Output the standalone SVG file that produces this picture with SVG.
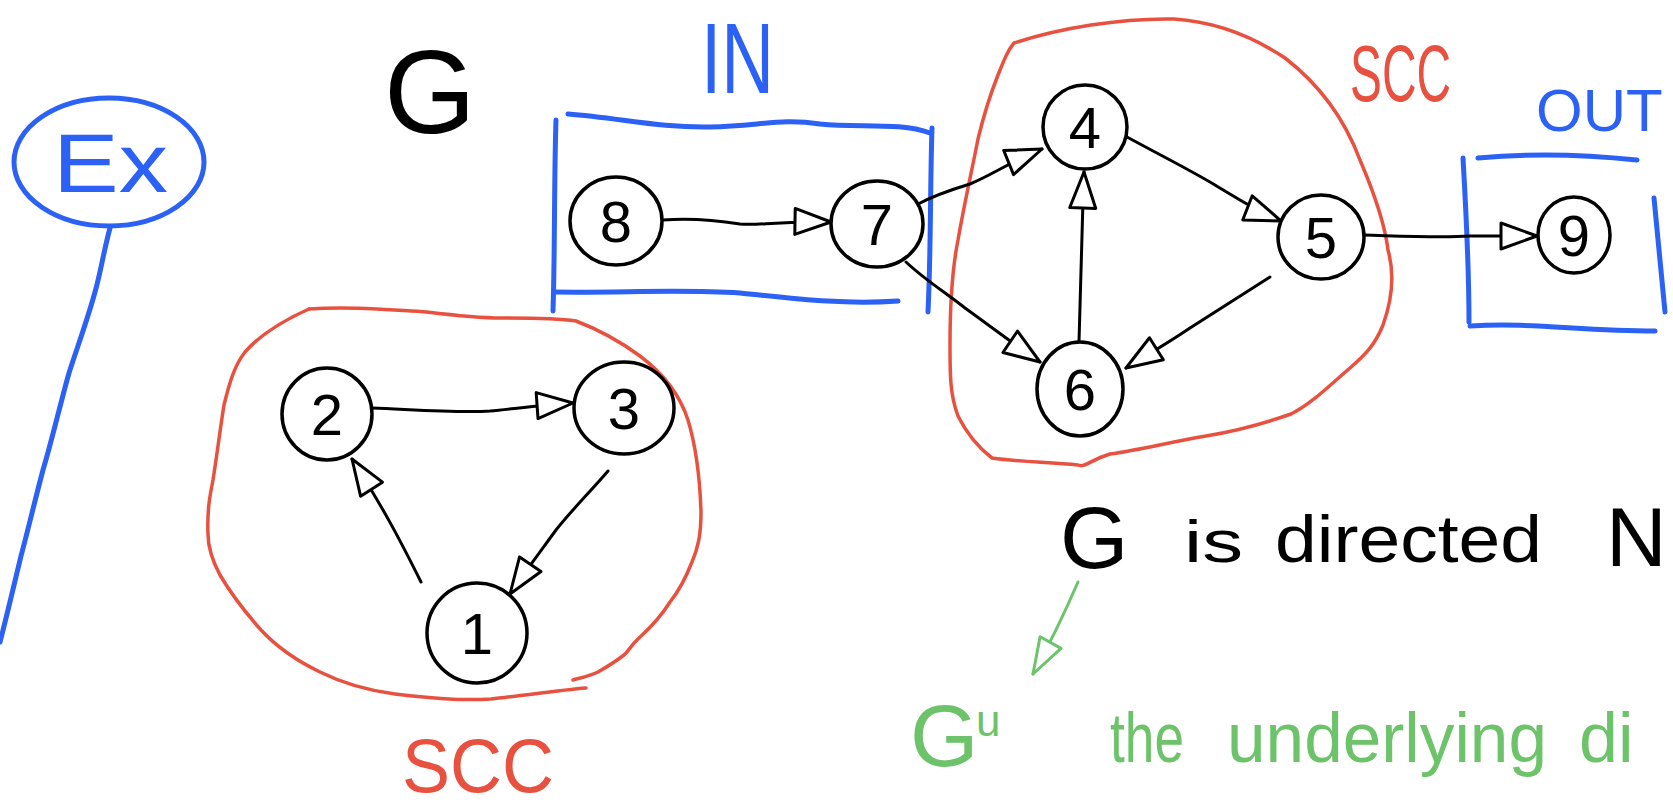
<svg xmlns="http://www.w3.org/2000/svg" width="1673" height="810" viewBox="0 0 1673 810">
<style>
.blue{fill:none;stroke:#2B62F5;stroke-width:5;stroke-linecap:round;stroke-linejoin:round}
.red{fill:none;stroke:#E8513F;stroke-width:3.5;stroke-linecap:round;stroke-linejoin:round}
.node ellipse{fill:#fff;stroke:#000;stroke-width:3.5}
.node text{font-family:"Liberation Sans",Arial,sans-serif;font-size:58px;fill:#000;text-anchor:middle}
.edge{fill:none;stroke:#000;stroke-width:3;stroke-linecap:round;marker-end:url(#arr)}
.gedge{fill:none;stroke:#6CC36A;stroke-width:3;stroke-linecap:round;marker-end:url(#garr)}
.t{font-family:"Liberation Sans",Arial,sans-serif}
</style>
<defs>
<marker id="arr" markerUnits="userSpaceOnUse" markerWidth="42" markerHeight="32" refX="38" refY="15" orient="auto" overflow="visible">
<path d="M2,2 L38,15 L2,28 Z" fill="#fff" stroke="#000" stroke-width="3" stroke-linejoin="round"/>
</marker>
<marker id="garr" markerUnits="userSpaceOnUse" markerWidth="42" markerHeight="32" refX="38" refY="14" orient="auto" overflow="visible">
<path d="M2,2 L38,14 L2,26 Z" fill="#fff" stroke="#6CC36A" stroke-width="3" stroke-linejoin="round"/>
</marker>
</defs>
<rect width="1673" height="810" fill="#fff"/>

<g id="ex-callout">
<ellipse cx="109" cy="162" rx="95" ry="64" class="blue"/>
<path class="blue" d="M110,228 C104,250 100,275 95,292 C88,318 78,345 69,373 C60,405 52,440 43,470 C35,500 28,530 21,556 C14,585 7,615 0,642"/>
<text class="t" x="53" y="192" font-size="84" fill="#2B62F5" textLength="115" lengthAdjust="spacingAndGlyphs">Ex</text>
</g>

<text id="label-G" class="t" x="384" y="133" font-size="118" fill="#000">G</text>

<g id="in-region">
<path class="blue" d="M556,120 C554,180 555,250 553,311"/>
<path class="blue" d="M568,114 C620,118 660,128 710,127 C760,126 780,118 820,124 C860,128 900,122 930,133"/>
<path class="blue" d="M932,128 C930,190 931,250 928,312"/>
<path class="blue" d="M555,292 C620,293 680,289 740,293 C790,298 840,305 898,301"/>
<text class="t" x="701" y="93" font-size="100" fill="#2B62F5" textLength="73" lengthAdjust="spacingAndGlyphs">IN</text>
</g>

<g id="out-region">
<path class="blue" d="M1463,158 C1466,210 1469,270 1469,322"/>
<path class="blue" d="M1478,158 C1530,153 1590,155 1637,160"/>
<path class="blue" d="M1470,326 C1530,322 1580,331 1655,331"/>
<path class="blue" d="M1654,198 C1658,240 1662,280 1665,312"/>
<text class="t" x="1536" y="131" font-size="60" fill="#2B62F5">OUT</text>
</g>

<g id="scc-right">
<path class="red" d="M1014,43 C1060,28 1120,18 1174,19 C1220,22 1255,38 1285,58 C1320,85 1345,120 1360,160 C1375,195 1385,225 1388,250 C1395,275 1392,300 1383,325 C1375,345 1365,355 1350,368 C1330,385 1310,405 1291,414 C1260,425 1230,432 1206,436 C1170,442 1140,450 1110,454 C1090,460 1085,468 1078,465 C1050,462 1020,462 992,458 C975,445 965,430 958,416 C950,395 950,375 950,345 C950,300 952,270 958,240 C965,200 972,170 978,139 C985,110 992,90 998,75 C1004,60 1008,50 1014,43"/>
<text class="t" x="1350" y="101" font-size="80" fill="#E8513F" textLength="101" lengthAdjust="spacingAndGlyphs">SCC</text>
</g>

<g id="scc-left">
<path class="red" d="M309,309 C350,306 390,310 427,312 C460,316 480,318 501,318 C530,318 555,318 576,321 C605,332 625,345 640,356 C665,375 680,395 688,420 C697,450 700,480 701,512 C701,535 698,548 692,562 C685,580 678,592 670,602 C660,618 650,628 640,637 C630,646 628,652 624,655 C615,662 605,668 598,672 C590,676 580,678 573,680"/>
<path class="red" d="M586,688 C560,690 520,696 491,699 C460,701 430,698 395,694 C365,690 340,682 320,672 C295,660 275,645 261,630 C245,612 230,592 220,575 C212,560 208,548 208,534 C207,510 210,495 213,480 C217,455 220,430 224,405 C230,380 235,365 245,352 C260,335 280,322 309,309"/>
<text class="t" x="402" y="792" font-size="76" fill="#E8513F" textLength="152" lengthAdjust="spacingAndGlyphs">SCC</text>
</g>

<g id="edges">
<path class="edge" d="M663,220 C690,218 715,220 740,224 C760,226 770,221 831,222"/>
<path class="edge" d="M916,205 C935,195 950,190 970,184 C990,176 1010,162 1042,149"/>
<path class="edge" d="M906,262 C925,280 945,292 965,308 C990,326 1015,345 1040,362"/>
<path class="edge" d="M1079,342 C1080,290 1082,230 1084,172"/>
<path class="edge" d="M1127,137 C1160,155 1190,170 1215,185 C1240,200 1258,212 1281,221"/>
<path class="edge" d="M1270,277 C1240,296 1215,312 1190,328 C1165,345 1145,356 1126,368"/>
<path class="edge" d="M1364,235 C1400,236 1440,238 1470,236 C1500,236 1515,236 1537,236"/>
<path class="edge" d="M372,408 C420,410 460,413 490,411 C520,408 545,405 573,403"/>
<path class="edge" d="M608,471 C590,492 570,512 556,530 C540,552 525,572 510,594"/>
<path class="edge" d="M421,582 C405,550 385,510 352,459"/>
<path class="gedge" d="M1078,582 C1065,612 1052,640 1033,674"/>
</g>

<g id="node-8" class="node"><ellipse cx="616" cy="221" rx="46" ry="44"/><text x="616" y="242">8</text></g>
<g id="node-7" class="node"><ellipse cx="877" cy="224" rx="46" ry="43"/><text x="877" y="245">7</text></g>
<g id="node-4" class="node"><ellipse cx="1085" cy="127" rx="42" ry="42"/><text x="1085" y="148">4</text></g>
<g id="node-5" class="node"><ellipse cx="1321" cy="237" rx="43" ry="42"/><text x="1321" y="258">5</text></g>
<g id="node-6" class="node"><ellipse cx="1080" cy="389" rx="43" ry="47"/><text x="1080" y="410">6</text></g>
<g id="node-9" class="node"><ellipse cx="1574" cy="235" rx="36" ry="38"/><text x="1574" y="256">9</text></g>
<g id="node-2" class="node"><ellipse cx="327" cy="414" rx="45" ry="46"/><text x="327" y="435">2</text></g>
<g id="node-3" class="node"><ellipse cx="624" cy="408" rx="50" ry="46"/><text x="624" y="429">3</text></g>
<g id="node-1" class="node"><ellipse cx="477" cy="633" rx="50" ry="50"/><text x="477" y="654">1</text></g>

<g id="statement">
<text class="t" x="1060" y="568" font-size="88" fill="#000">G</text>
<text class="t" x="1184" y="562" font-size="60" fill="#000" textLength="59" lengthAdjust="spacingAndGlyphs">is</text>
<text class="t" x="1275" y="562" font-size="66" fill="#000" textLength="267" lengthAdjust="spacingAndGlyphs">directed</text>
<text class="t" x="1606" y="566" font-size="84" fill="#000">N</text>
</g>

<g id="underlying">
<text class="t" x="910" y="766" font-size="88" fill="#6CC36A">G</text>
<text class="t" x="976" y="736" font-size="44" fill="#6CC36A">u</text>
<text class="t" x="1110" y="762" font-size="70" fill="#6CC36A" textLength="74" lengthAdjust="spacingAndGlyphs">the</text>
<text class="t" x="1227" y="762" font-size="70" fill="#6CC36A" textLength="320" lengthAdjust="spacingAndGlyphs">underlying</text>
<text class="t" x="1579" y="762" font-size="70" fill="#6CC36A">di</text>
</g>
</svg>
